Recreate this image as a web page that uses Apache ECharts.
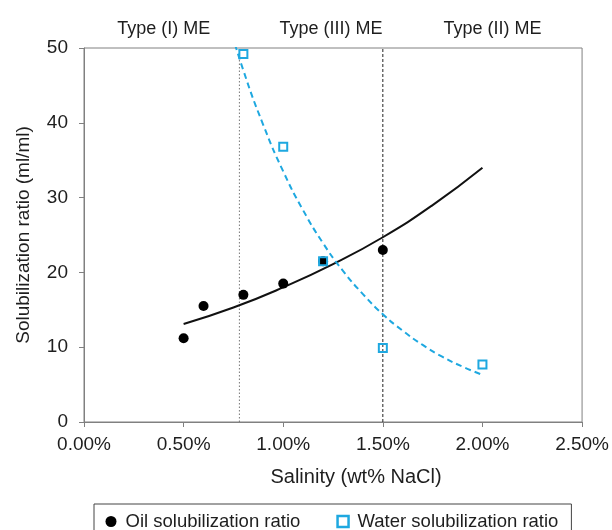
<!DOCTYPE html>
<html>
<head>
<meta charset="utf-8">
<script src="https://cdn.jsdelivr.net/npm/echarts@6/dist/echarts.min.js"></script>
<style>
  html, body { margin: 0; padding: 0; background: #fff; }
  #chart { width: 612px; height: 530px; }
</style>
</head>
<body>
<div id="chart"></div>
<script>
// Salinity (wt% NaCl) and measured solubilization ratios
const oilSalinity = [0.5, 0.6, 0.8, 1.0, 1.2, 1.5];
const oilRatio = [11.2, 15.5, 17.0, 18.5, 21.5, 23.0];
const waterSalinity = [0.8, 1.0, 1.2, 1.5, 2.0];
const waterRatio = [49.2, 36.8, 21.5, 9.9, 7.7];

// Exponential trend curves, sampled along salinity
const oilTrendX = [0.5, 0.75, 1.0, 1.25, 1.5, 1.75, 2.0];
const oilTrendY = [13.1, 15.3, 18.0, 21.1, 24.7, 29.0, 34.0];
const waterTrendX = [0.7, 0.8, 0.9, 1.0, 1.1, 1.2, 1.3, 1.4, 1.5, 1.6, 1.7, 1.8, 1.9, 2.0];
const waterTrendY = [55.6, 47.0, 39.7, 33.5, 28.3, 23.9, 20.2, 17.1, 14.4, 12.2, 10.3, 8.7, 7.4, 6.3];

// Phase boundaries and microemulsion type labels
const phaseBoundaries = [0.78, 1.5];
const phaseLabels = ['Type (I) ME', 'Type (III) ME', 'Type (II) ME'];
const phaseLabelX = [0.40, 1.24, 2.05];

const xTicks = [0, 0.5, 1.0, 1.5, 2.0, 2.5];
const yTicks = [0, 10, 20, 30, 40, 50];

const zip = (xs, ys) => xs.map((x, i) => [x, ys[i]]);
const FONT = '"Liberation Sans", Arial, sans-serif';
const TEXT = '#1e1e1e';
const AXIS = '#808080';
const BLUE = '#1ea8e0';

const chart = echarts.init(document.getElementById('chart'));

const boundarySeries = phaseBoundaries.map((b, i) => ({
  type: 'line',
  data: [[b, yTicks[0]], [b, yTicks[yTicks.length - 1]]],
  symbol: 'none',
  silent: true,
  lineStyle: {
    color: i === 0 ? '#777' : '#222',
    width: 1,
    type: i === 0 ? [1.5, 2] : [3, 2]
  },
  z: 1
}));

chart.setOption({
  animation: false,
  textStyle: { fontFamily: FONT },
  grid: { left: 84, right: 28, top: 48, bottom: 108, show: true, borderColor: AXIS, borderWidth: 1 },
  xAxis: {
    type: 'value',
    min: xTicks[0],
    max: xTicks[xTicks.length - 1],
    interval: 0.5,
    splitLine: { show: false },
    axisLine: { lineStyle: { color: AXIS } },
    axisTick: { show: true, length: 5, lineStyle: { color: AXIS } },
    axisLabel: { color: TEXT, fontSize: 19, margin: 13, formatter: v => v.toFixed(2) + '%' },
    name: 'Salinity (wt% NaCl)',
    nameLocation: 'middle',
    nameGap: 45,
    nameTextStyle: { color: TEXT, fontSize: 20, padding: [0, 0, 0, 46] }
  },
  yAxis: {
    type: 'value',
    min: yTicks[0],
    max: yTicks[yTicks.length - 1],
    interval: 10,
    splitLine: { show: false },
    axisLine: { show: true, lineStyle: { color: AXIS } },
    axisTick: { show: true, length: 5, lineStyle: { color: AXIS } },
    axisLabel: { color: TEXT, fontSize: 19, margin: 16 },
    name: 'Solubilization ratio (ml/ml)',
    nameLocation: 'middle',
    nameGap: 51,
    nameTextStyle: { color: TEXT, fontSize: 19 }
  },
  legend: {
    top: 504,
    left: 94,
    padding: [8, 13, 14, 11.5],
    itemGap: 36,
    itemWidth: 11,
    itemHeight: 11,
    borderColor: '#444',
    borderWidth: 1,
    textStyle: { color: TEXT, fontSize: 18.5, fontFamily: FONT, padding: [0, 0, 0, 4] },
    data: [
      { name: 'Oil solubilization ratio', icon: 'circle', itemStyle: { color: '#000' } },
      { name: 'Water solubilization ratio', icon: 'rect', itemStyle: { color: '#fff', borderColor: BLUE, borderWidth: 2.5 } }
    ]
  },
  series: [
    ...boundarySeries,
    {
      type: 'line',
      data: zip(oilTrendX, oilTrendY),
      smooth: true,
      symbol: 'none',
      silent: true,
      lineStyle: { color: '#111', width: 2 },
      z: 2
    },
    {
      type: 'line',
      data: zip(waterTrendX, waterTrendY),
      smooth: true,
      symbol: 'none',
      silent: true,
      clip: true,
      lineStyle: { color: BLUE, width: 2, type: [6, 4] },
      z: 2
    },
    {
      name: 'Oil solubilization ratio',
      type: 'scatter',
      data: zip(oilSalinity, oilRatio),
      symbol: 'circle',
      symbolSize: 10,
      itemStyle: { color: '#000', opacity: 1 },
      z: 4
    },
    {
      name: 'Water solubilization ratio',
      type: 'scatter',
      data: zip(waterSalinity, waterRatio),
      symbol: 'rect',
      symbolSize: 8,
      itemStyle: { color: 'rgba(0,0,0,0)', borderColor: BLUE, borderWidth: 2, opacity: 1 },
      z: 5
    }
  ]
});

// Microemulsion type captions above the plot, placed through the x scale
const topY = chart.convertToPixel({ gridIndex: 0 }, [0, yTicks[yTicks.length - 1]])[1];
chart.setOption({
  graphic: phaseLabels.map((t, i) => ({
    type: 'text',
    x: chart.convertToPixel({ gridIndex: 0 }, [phaseLabelX[i], 0])[0],
    y: topY - 19,
    style: {
      text: t,
      fill: TEXT,
      font: '18px ' + FONT,
      textAlign: 'center',
      textVerticalAlign: 'middle'
    }
  }))
});
</script>
</body>
</html>
